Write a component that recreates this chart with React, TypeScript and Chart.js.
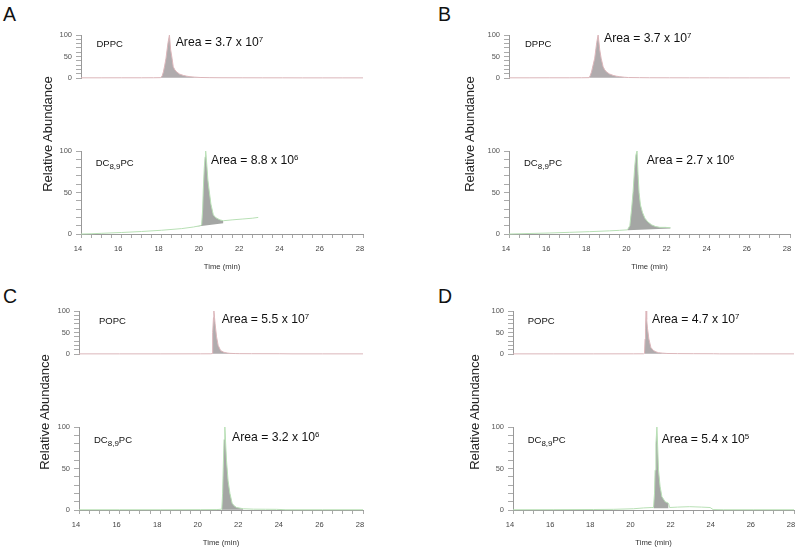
import React, { useEffect, useRef } from "react";
import { Chart, registerables } from "chart.js";

Chart.register(...registerables);

// ---------- tick labels ----------
const timeTickLabels = [14, 16, 18, 20, 22, 24, 26, 28];
const abundanceTickLabels = [0, 50, 100];

// ---------- Panel A ----------
const aTopTime = [14, 15, 16, 17, 17.6, 17.96, 18.03, 18.09, 18.16, 18.22, 18.28, 18.32, 18.39, 18.45, 18.52, 18.58, 18.66, 18.75, 18.9, 19.08, 19.25, 19.41, 19.65, 19.91, 20.4, 21, 22, 23, 24, 25, 26, 27, 28];
const aTopAbund = [0.4, 0.4, 0.5, 0.5, 0.6, 0.8, 5, 14, 30, 46, 68, 82, 100, 66, 46, 26, 19, 14, 9, 6, 4.2, 3, 2, 1.2, 0.8, 0.6, 0.5, 0.4, 0.4, 0.3, 0.3, 0.3, 0.3];
const aTopWindow = [17.96, 19.91];
const aTopBase = [0.3, 0.3];

const aBotTime = [14, 14.5, 15, 16, 17, 18, 19, 19.58, 19.91, 19.99, 20.04, 20.07, 20.12, 20.16, 20.19, 20.24, 20.3, 20.36, 20.45, 20.57, 20.7, 20.9, 21.07, 21.5, 22, 22.5, 22.8];
const aBotAbund = [0, 0.3, 0.8, 1.8, 3, 4.5, 6.5, 8.4, 10, 11, 30, 53, 80, 93, 100, 85, 65, 53, 36, 23, 19.5, 17, 16, 17, 18, 19, 20];
const aBotWindow = [19.58, 21.07];
const aBotBase = [8.4, 13];

// ---------- Panel B ----------
const bTopTime = [14, 15, 16, 17, 17.6, 17.99, 18.05, 18.11, 18.19, 18.27, 18.33, 18.37, 18.44, 18.52, 18.59, 18.69, 18.77, 18.86, 19.0, 19.19, 19.35, 19.52, 19.75, 19.94, 20.5, 21, 22, 23, 24, 25, 26, 27, 28];
const bTopAbund = [0.4, 0.4, 0.5, 0.5, 0.6, 0.8, 6, 14, 30, 46, 68, 82, 100, 66, 46, 26, 19, 14, 9.5, 6, 4.2, 3, 1.8, 1.1, 0.8, 0.6, 0.5, 0.4, 0.4, 0.3, 0.3, 0.3, 0.3];
const bTopWindow = [17.99, 19.94];
const bTopBase = [0.3, 0.3];

const bBotTime = [14, 15, 16, 17, 18, 19, 19.5, 19.9, 20.02, 20.1, 20.18, 20.26, 20.32, 20.38, 20.43, 20.48, 20.55, 20.65, 20.77, 20.9, 21.1, 21.3, 21.52, 21.8, 22.05];
const bBotAbund = [0, 0.6, 1.2, 2, 2.8, 3.8, 4.4, 5, 10, 28, 50, 80, 95, 100, 72, 50, 35, 26, 19, 15, 11, 9, 8, 8, 7.5];
const bBotWindow = [19.9, 22.05];
const bBotBase = [4.5, 6.5];

// ---------- Panel C ----------
const cTopTime = [14, 16, 18, 20, 20.5, 20.56, 20.58, 20.6, 20.63, 20.65, 20.68, 20.71, 20.78, 20.86, 20.98, 21.14, 21.3, 21.44, 21.7, 21.93, 22.5, 23.9, 24.5, 26, 28];
const cTopAbund = [0.3, 0.3, 0.3, 0.4, 0.5, 1, 25, 50, 85, 100, 85, 70, 40, 20, 8, 4, 2.3, 1.5, 1.0, 0.8, 0.7, 0.6, 0.3, 0.3, 0.3];
const cTopWindow = [20.56, 21.93];
const cTopBase = [0.3, 0.3];

const cBotTime = [14, 16, 18, 20, 20.8, 21.04, 21.08, 21.11, 21.15, 21.19, 21.23, 21.27, 21.35, 21.44, 21.55, 21.65, 21.77, 22.1, 22.6, 23.2, 23.74, 24.2, 26, 28];
const cBotAbund = [0.3, 0.3, 0.3, 0.4, 0.5, 1, 20, 50, 85, 100, 80, 60, 35, 20, 8, 5, 3, 1.5, 1.0, 0.9, 0.8, 0.3, 0.3, 0.3];
const cBotWindow = [21.04, 22.1];
const cBotBase = [0.3, 0.3];

// ---------- Panel D ----------
const dTopTime = [14, 16, 18, 20, 20.5, 20.55, 20.58, 20.6, 20.63, 20.66, 20.7, 20.77, 20.87, 21.0, 21.12, 21.25, 21.45, 21.67, 22.2, 23.0, 23.99, 24.3, 26, 28];
const dTopAbund = [0.3, 0.3, 0.3, 0.4, 0.5, 1, 35, 60, 100, 80, 60, 35, 15, 8, 5, 3, 2, 1.2, 0.9, 0.7, 0.6, 0.3, 0.3, 0.3];
const dTopWindow = [20.55, 21.67];
const dTopBase = [0.3, 0.3];

const dBotTime = [14, 16, 18, 19, 20, 20.5, 20.92, 21.0, 21.05, 21.08, 21.12, 21.17, 21.21, 21.25, 21.33, 21.42, 21.5, 21.58, 21.67, 21.75, 21.8, 22.2, 22.8, 23.4, 23.82, 23.97, 24.5, 26, 28];
const dBotAbund = [0.3, 0.4, 0.6, 0.8, 1.5, 2.5, 3, 3, 20, 48, 80, 100, 75, 48, 28, 16, 13, 10, 9, 8, 3, 3.5, 4, 3.5, 3, 0.5, 0.3, 0.3, 0.3];
const dBotWindow = [21.0, 21.75];
const dBotBase = [2, 2];

// ---------- styles ----------
const FONT = '"Liberation Sans", Arial, Helvetica, sans-serif';
const TOP_LINE = "#dcb6ba";
const TOP_FILL = "#b0abad";
const BOT_LINE = "#b8e0b5";
const BOT_FILL = "#a4a6a4";

const Y_W = 35;
const PAD_T = 8;
const PAD_R = 10;
const PAD_B = 6;
const X_H = 40;

type Plot = { left: number; right: number; top: number; bottom: number };

function Trace(props: {
  plot: Plot;
  time: number[];
  abund: number[];
  win: number[];
  base: number[];
  line: string;
  fill: string;
  showX: boolean;
}) {
  const { plot, time, abund, win, base, line, fill, showX } = props;
  const ref = useRef<HTMLCanvasElement>(null);
  const cw = plot.right - plot.left + Y_W + PAD_R;
  const ch = plot.bottom - plot.top + PAD_T + (showX ? X_H : PAD_B);

  useEffect(() => {
    if (!ref.current) return;
    const pts = time.map((t, i) => ({ x: t, y: abund[i] }));
    const peak = pts.filter((p) => p.x >= win[0] - 1e-9 && p.x <= win[1] + 1e-9);
    const baseLine = [
      { x: win[0], y: base[0] },
      { x: win[1], y: base[1] },
    ];
    const chart = new Chart(ref.current, {
      type: "line",
      data: {
        datasets: [
          {
            data: pts,
            borderColor: line,
            borderWidth: 1,
            pointRadius: 0,
            fill: false,
            tension: 0,
            clip: 4,
          },
          {
            data: peak,
            borderColor: "rgba(0,0,0,0)",
            borderWidth: 0,
            backgroundColor: fill,
            pointRadius: 0,
            fill: "+1",
            tension: 0,
            clip: 4,
          },
          {
            data: baseLine,
            borderColor: "rgba(0,0,0,0)",
            borderWidth: 0,
            pointRadius: 0,
            fill: false,
          },
        ],
      },
      options: {
        responsive: false,
        animation: false,
        events: [],
        layout: { padding: { left: 0, top: PAD_T, right: PAD_R, bottom: showX ? 0 : PAD_B } },
        plugins: { legend: { display: false }, tooltip: { enabled: false } },
        scales: {
          x: {
            type: "linear",
            display: showX,
            min: 14,
            max: 28,
            afterFit: (s: any) => {
              s.height = X_H;
              s.paddingLeft = 0;
              s.paddingRight = 0;
            },
            ticks: {
              stepSize: 0.5,
              autoSkip: false,
              maxTicksLimit: 100,
              maxRotation: 0,
              minRotation: 0,
              padding: 6.5,
              labelOffset: -3,
              color: "#444",
              font: { family: FONT, size: 7.5 },
              callback: (v: any) => (timeTickLabels.includes(Number(v)) ? String(v) : ""),
            },
            grid: { drawOnChartArea: false, tickLength: 4, color: "#aaa" },
            border: { color: "#999", width: 1 },
            title: {
              display: true,
              text: "Time (min)",
              color: "#333",
              font: { family: FONT, size: 7.7 },
              padding: { top: 0, bottom: 2.5 },
            },
          },
          y: {
            min: 0,
            max: 100,
            afterFit: (s: any) => {
              s.width = Y_W;
              s.paddingTop = 0;
              s.paddingBottom = 0;
            },
            ticks: {
              stepSize: 10,
              autoSkip: false,
              padding: 4,
              color: "#555",
              font: { family: FONT, size: 7.5 },
              callback: (v: any) => (abundanceTickLabels.includes(Number(v)) ? String(v) : ""),
            },
            grid: { drawOnChartArea: false, tickLength: 5, color: "#aaa" },
            border: { color: "#999", width: 1 },
          },
        },
      },
    } as any);
    return () => chart.destroy();
  }, []);

  return (
    <canvas
      ref={ref}
      width={cw}
      height={ch}
      style={{
        position: "absolute",
        left: plot.left - Y_W,
        top: plot.top - PAD_T,
        width: cw,
        height: ch,
      }}
    />
  );
}

function Txt(props: { x: number; cy: number; fs: number; children: any; color?: string }) {
  const { x, cy, fs, children, color } = props;
  return (
    <div
      style={{
        position: "absolute",
        left: x,
        top: cy - 0.488 * fs,
        fontSize: fs,
        lineHeight: 1,
        whiteSpace: "nowrap",
        color: color || "#111",
      }}
    >
      {children}
    </div>
  );
}

const Sup = ({ children }: { children: any }) => (
  <sup style={{ fontSize: "0.65em", verticalAlign: "0.45em", lineHeight: 0 }}>{children}</sup>
);

const DC = () => (
  <span>
    DC<sub style={{ fontSize: "0.84em", verticalAlign: "-0.32em", lineHeight: 0 }}>8,9</sub>PC
  </span>
);

function YTitle({ cx, cy }: { cx: number; cy: number }) {
  return (
    <div
      style={{
        position: "absolute",
        left: cx,
        top: cy,
        fontSize: 13,
        lineHeight: 1,
        whiteSpace: "nowrap",
        color: "#222",
        transform: "translate(-50%, -50%) rotate(-90deg)",
      }}
    >
      Relative Abundance
    </div>
  );
}

function Letter({ x, top, ch }: { x: number; top: number; ch: string }) {
  return (
    <div
      style={{
        position: "absolute",
        left: x,
        top: top - 0.13 * 19.5,
        fontSize: 19.5,
        lineHeight: 1,
        color: "#111",
      }}
    >
      {ch}
    </div>
  );
}

export default function App() {
  const A = { l: 81, r: 363 };
  const B = { l: 509, r: 790 };
  const C = { l: 79, r: 363 };
  const D = { l: 513, r: 794 };
  return (
    <div
      style={{
        position: "fixed",
        left: 0,
        top: 0,
        width: 800,
        height: 552,
        background: "#fff",
        overflow: "hidden",
        fontFamily: FONT,
      }}
    >
      {/* Panel A */}
      <Trace plot={{ left: A.l, right: A.r, top: 35, bottom: 118 }} time={aTopTime} abund={aTopAbund} win={aTopWindow} base={aTopBase} line={TOP_LINE} fill={TOP_FILL} showX={false} />
      <Trace plot={{ left: A.l, right: A.r, top: 151, bottom: 234 }} time={aBotTime} abund={aBotAbund} win={aBotWindow} base={aBotBase} line={BOT_LINE} fill={BOT_FILL} showX={true} />
      {/* Panel B */}
      <Trace plot={{ left: B.l, right: B.r, top: 35, bottom: 118 }} time={bTopTime} abund={bTopAbund} win={bTopWindow} base={bTopBase} line={TOP_LINE} fill={TOP_FILL} showX={false} />
      <Trace plot={{ left: B.l, right: B.r, top: 151, bottom: 234 }} time={bBotTime} abund={bBotAbund} win={bBotWindow} base={bBotBase} line={BOT_LINE} fill={BOT_FILL} showX={true} />
      {/* Panel C */}
      <Trace plot={{ left: C.l, right: C.r, top: 311, bottom: 394 }} time={cTopTime} abund={cTopAbund} win={cTopWindow} base={cTopBase} line={TOP_LINE} fill={TOP_FILL} showX={false} />
      <Trace plot={{ left: C.l, right: C.r, top: 427, bottom: 510 }} time={cBotTime} abund={cBotAbund} win={cBotWindow} base={cBotBase} line={BOT_LINE} fill={BOT_FILL} showX={true} />
      {/* Panel D */}
      <Trace plot={{ left: D.l, right: D.r, top: 311, bottom: 394 }} time={dTopTime} abund={dTopAbund} win={dTopWindow} base={dTopBase} line={TOP_LINE} fill={TOP_FILL} showX={false} />
      <Trace plot={{ left: D.l, right: D.r, top: 427, bottom: 510 }} time={dBotTime} abund={dBotAbund} win={dBotWindow} base={dBotBase} line={BOT_LINE} fill={BOT_FILL} showX={true} />

      <Letter x={3} top={8} ch="A" />
      <Letter x={438} top={8} ch="B" />
      <Letter x={3} top={289.3} ch="C" />
      <Letter x={438} top={290} ch="D" />

      <YTitle cx={46.5} cy={133.5} />
      <YTitle cx={469} cy={133.5} />
      <YTitle cx={44} cy={411.5} />
      <YTitle cx={473.5} cy={411.5} />

      <Txt x={96.5} cy={43.3} fs={9.5}>DPPC</Txt>
      <Txt x={175.7} cy={42} fs={12.2}>Area = 3.7 x 10<Sup>7</Sup></Txt>
      <Txt x={95.7} cy={162.2} fs={9.5}><DC /></Txt>
      <Txt x={211} cy={160.2} fs={12.2}>Area = 8.8 x 10<Sup>6</Sup></Txt>

      <Txt x={525} cy={43.3} fs={9.5}>DPPC</Txt>
      <Txt x={604} cy={37.8} fs={12.2}>Area = 3.7 x 10<Sup>7</Sup></Txt>
      <Txt x={524} cy={162.2} fs={9.5}><DC /></Txt>
      <Txt x={646.7} cy={160.2} fs={12.2}>Area = 2.7 x 10<Sup>6</Sup></Txt>

      <Txt x={99} cy={320.8} fs={9.5}>POPC</Txt>
      <Txt x={221.7} cy={319.2} fs={12.2}>Area = 5.5 x 10<Sup>7</Sup></Txt>
      <Txt x={94} cy={439.7} fs={9.5}><DC /></Txt>
      <Txt x={232} cy={437.2} fs={12.2}>Area = 3.2 x 10<Sup>6</Sup></Txt>

      <Txt x={527.7} cy={321} fs={9.5}>POPC</Txt>
      <Txt x={652} cy={319.2} fs={12.2}>Area = 4.7 x 10<Sup>7</Sup></Txt>
      <Txt x={527.7} cy={439.7} fs={9.5}><DC /></Txt>
      <Txt x={661.7} cy={439.2} fs={12.2}>Area = 5.4 x 10<Sup>5</Sup></Txt>
    </div>
  );
}
